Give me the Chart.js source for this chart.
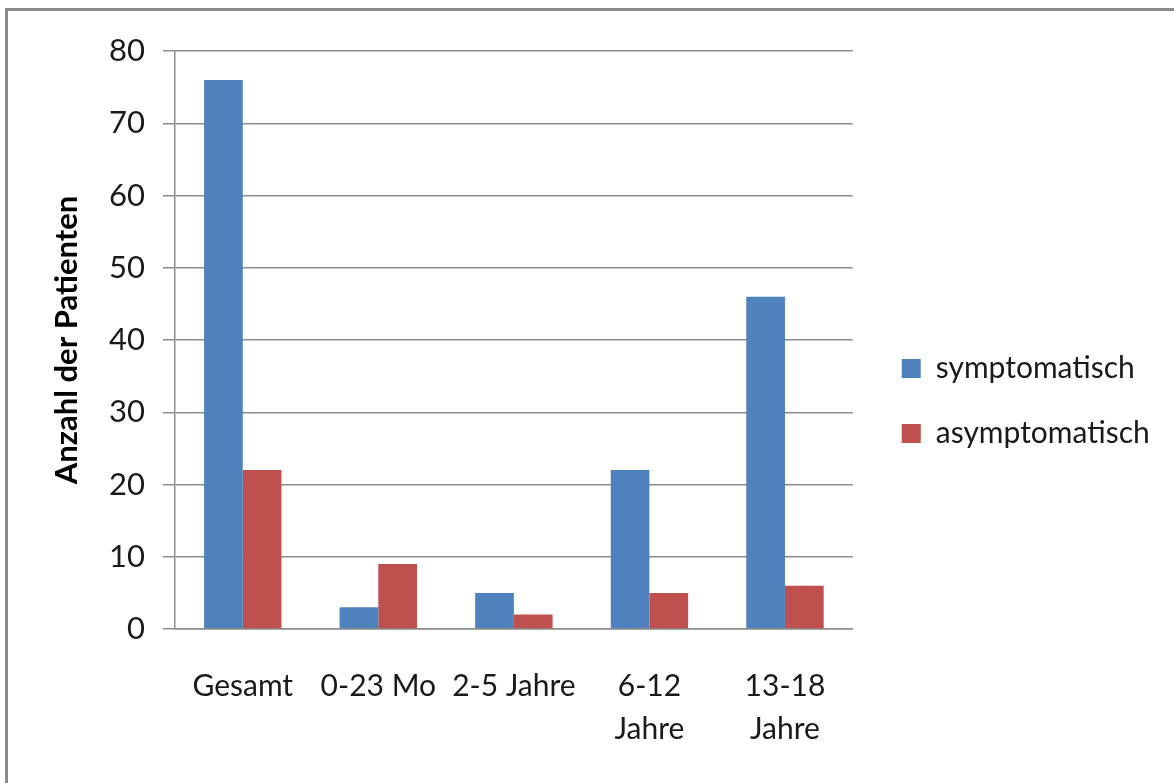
<!DOCTYPE html>
<html lang="de">
<head>
<meta charset="utf-8">
<title>Anzahl der Patienten nach Altersgruppe</title>
<script src="https://cdn.jsdelivr.net/npm/chart.js@4/dist/chart.umd.min.js"></script>
<style>
  html, body { margin: 0; padding: 0; background: #ffffff; overflow: hidden; }
  #frame {
    position: absolute; left: 5px; top: 8px; width: 1300px; height: 900px;
    border-top: 3px solid #8a8a8a; border-left: 3px solid #8a8a8a;
    box-sizing: border-box;
  }
  #wrap { position: absolute; left: 0; top: 0; width: 1174px; height: 783px; }
</style>
</head>
<body>
<div id="frame"></div>
<div id="wrap"><canvas id="chart"></canvas></div>
<script>
// Altersgruppen (x-Achse)
const categories = ['Gesamt', '0-23 Mo', '2-5 Jahre', ['6-12', 'Jahre'], ['13-18', 'Jahre']];
// Anzahl der Patienten je Gruppe
const symptomatisch = [76, 3, 5, 22, 46];
const asymptomatisch = [22, 9, 2, 5, 6];
// y-Achse
const yMin = 0;
const yMax = 80;
const yStep = 10;

const FONT = 'Lato, "Open Sans", sans-serif';
const GRID = '#8c8c8c';

// Nudge the legend block beside the plot area
const legendOffset = {
  id: 'legendOffset',
  afterLayout(chart) {
    const lg = chart.legend;
    if (!lg) return;
    const dx = 14, dy = -16;
    lg.left += dx; lg.right += dx;
    lg.top += dy; lg.bottom += dy;
  }
};

new Chart(document.getElementById('chart'), {
  type: 'bar',
  data: {
    labels: categories,
    datasets: [
      { label: 'symptomatisch', data: symptomatisch, backgroundColor: '#4f81bd' },
      { label: 'asymptomatisch', data: asymptomatisch, backgroundColor: '#c0504d' }
    ]
  },
  options: {
    responsive: true,
    maintainAspectRatio: false,
    animation: false,
    layout: { padding: { top: 51, left: 0, right: 37, bottom: 0 } },
    datasets: { bar: { categoryPercentage: 0.571, barPercentage: 1.0 } },
    plugins: {
      tooltip: { enabled: false },
      legend: {
        position: 'right',
        align: 'center',
        labels: {
          color: '#1a1a1a',
          font: { family: FONT, size: 30 },
          boxWidth: 19,
          boxHeight: 19,
          padding: 35
        }
      }
    },
    scales: {
      x: {
        grid: { display: false, drawTicks: false },
        border: { display: true, color: GRID, width: 1.5 },
        ticks: {
          color: '#1a1a1a',
          font: { family: FONT, size: 30, lineHeight: 1.43 },
          padding: 36,
          maxRotation: 0,
          autoSkip: false
        },
        afterFit(scale) { scale.height = 154; }
      },
      y: {
        min: yMin,
        max: yMax,
        ticks: {
          stepSize: yStep,
          color: '#1a1a1a',
          font: { family: FONT, size: 31 },
          padding: 18
        },
        grid: { color: GRID, lineWidth: 1.5, tickLength: 12 },
        border: { display: true, color: GRID, width: 1.5 },
        title: {
          display: true,
          text: 'Anzahl der Patienten',
          color: '#000000',
          font: { family: FONT, size: 31, weight: 'bold' },
          padding: { top: 48, bottom: 0 }
        },
        afterFit(scale) { scale.width = 175; }
      }
    }
  },
  plugins: [legendOffset]
});
</script>
</body>
</html>
